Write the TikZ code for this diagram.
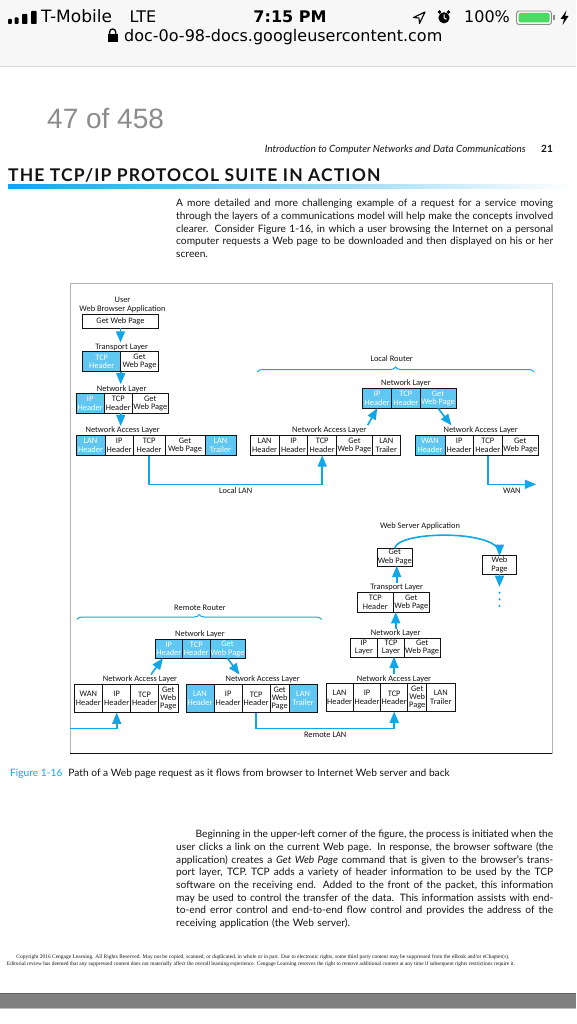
\documentclass[tikz,border=0pt]{standalone}
\usepackage{fontspec}
\usepackage{graphicx}
\setmainfont{Lato}
\newfontfamily\uifont{DejaVu Sans}
\newfontfamily\pagefont{Liberation Sans}
\newfontfamily\figfont{Carlito}
\newfontfamily\copyfont{Liberation Serif}
\newfontfamily\titlefont[LetterSpace=6.5]{Lato}
\usetikzlibrary{shapes,arrows,positioning,decorations.pathreplacing}

\definecolor{barback}{RGB}{247,247,247}
\definecolor{batgreen}{RGB}{76,217,100}
\definecolor{pagegray}{RGB}{140,140,140}
\definecolor{cellblue}{RGB}{96,198,242}
\definecolor{linkblue}{RGB}{16,166,232}
\definecolor{inkgray}{RGB}{20,20,20}

\newcommand{\figtext}{\figfont\fontsize{8.4}{8.4}\selectfont}
\newcommand{\bodytext}{\fontsize{10.2}{12.7}\selectfont}
\newcommand{\jline}[2][377pt]{\makebox[#1][s]{\spaceskip=0pt\xspaceskip=0pt #2}}

\begin{document}
\begin{tikzpicture}[x=1pt, y=-1pt, >=triangle 45]
    \tikzstyle{cell}  = [draw=inkgray, line width=0.7pt, rectangle, minimum height=20pt, inner sep=0pt, outer sep=0pt, align=center, font=\figtext, text=inkgray]
    \tikzstyle{hcell} = [cell, fill=cellblue, text=white]
    \tikzstyle{tall}  = [minimum height=28.4pt]
    \tikzstyle{layer} = [font=\figtext, inner sep=1pt, text=inkgray]
    \tikzstyle{link}  = [linkblue, line width=1.6pt, ->]
    \tikzstyle{brace} = [linkblue, line width=1pt, decorate, decoration={brace, amplitude=5pt}]
    \tikzstyle{body}  = [anchor=north west, inner sep=0pt, text width=377pt, align=left, font=\bodytext, text=inkgray]
    \tikzstyle{uitext} = [anchor=base west, inner sep=0pt, font=\uifont\fontsize{16}{16}\selectfont]

    \useasboundingbox (0,0) rectangle (576,1024);
    \fill[white] (0,0) rectangle (576,1024);

    % Status bar and address bar
    \fill[barback] (0,0) rectangle (576,66);
    \draw[black!15] (0,66) -- (576,66);
    \fill[rounded corners=0.8pt] (8,19) rectangle (11.8,24);
    \fill[rounded corners=0.8pt] (14.7,17.5) rectangle (18.5,24);
    \fill[rounded corners=0.8pt] (22,14) rectangle (27.4,24);
    \fill[rounded corners=0.8pt] (31,11) rectangle (36.6,24);
    \node[uitext, font=\uifont\fontsize{17}{17}\selectfont] (carrier) at (41,22.8) {T-Mobile};
    \node[uitext] (net) at (129.4,22.8) {LTE};
    \node[uitext, anchor=base, font=\uifont\bfseries\fontsize{16}{16}\selectfont] (clock) at (290,22.8) {7:15 PM};
    \draw[line width=1.1pt, line join=round] (413.5,17.5) -- (425,12) -- (419.5,23.5) -- (419,18) -- cycle;
    \fill (439.5,12) circle (1.8);
    \fill (448.5,12) circle (1.8);
    \fill (444,17.8) circle (5.6);
    \draw[white, line width=1pt] (444,14.5) -- (444,17.8) -- (446.5,19.3);
    \node[uitext] (charge) at (464,22.8) {100\%};
    \draw[black!45, line width=0.9pt, rounded corners=2.5pt] (516.5,11) rectangle (551.5,24.5);
    \fill[batgreen, rounded corners=1.5pt] (518.5,13) rectangle (549.5,22.5);
    \fill[black!45] (552.5,15.5) rectangle (554.5,20);
    \fill (566.5,10.5) -- (560.5,19) -- (564,19) -- (562.5,25) -- (568.5,16) -- (565,16) -- cycle;
    \fill (107.7,34.5) rectangle (117.6,42);
    \draw[line width=1.3pt, rounded corners=3pt] (109.6,34.5) -- (109.6,29) -- (115.7,29) -- (115.7,34.5);
    \node[uitext] (url) at (124,41.2) {doc-0o-98-docs.googleusercontent.com};

    % Page head
    \node[anchor=base west, inner sep=0pt, text=pagegray, font=\pagefont\fontsize{28}{28}\selectfont] (pagecount) at (47,128.6) {47 of 458};
    \node[anchor=base east, inner sep=0pt, text=inkgray, font=\itshape\fontsize{10}{10}\selectfont] (runhead) at (526,153) {Introduction to Computer Networks and Data Communications};
    \node[anchor=base east, inner sep=0pt, text=inkgray, font=\bfseries\fontsize{10}{10}\selectfont] (pageno) at (553,153) {21};
    \node[anchor=base west, inner sep=0pt, text=inkgray, font=\titlefont\bfseries\fontsize{17.5}{17.5}\selectfont] (title) at (8,181.5) {THE TCP/IP PROTOCOL SUITE IN ACTION};
    \shade[left color=linkblue, right color=white] (8,184.5) rectangle (572,188.5);

    \node[body] (intro) at (176,199) {\jline{A more detailed and more challenging example of a request for a service moving}\\
        \jline{through the layers of a communications model will help make the concepts involved}\\
        \jline{clearer. Consider Figure 1-16, in which a user browsing the Internet on a personal}\\
        \jline{computer requests a Web page to be downloaded and then displayed on his or her}\\
        screen.};

    % Figure frame
    \draw[black!30] (70,283) rectangle (552,753.5);
    \draw[inkgray, line width=0.8pt] (70,753.5) -- (552,753.5);

    % User side
    \node[layer, align=center] (userlbl) at (122.5,305) {User\\Web Browser Application};
    \node[cell, minimum width=75.6pt, minimum height=14pt, anchor=north west] (cget) at (82.7,314.3) {Get Web Page};
    \node[layer] (ctlbl) at (121.7,347) {Transport Layer};
    \node[hcell, minimum width=38pt, anchor=north west] (ctcp) at (82.7,351.7) {TCP\\Header};
    \node[cell, minimum width=37.6pt, right=0pt of ctcp] (ctget) {Get\\Web Page};
    \node[layer] (cnlbl) at (121.7,389) {Network Layer};
    \node[hcell, minimum width=28.3pt, anchor=north west] (cnip) at (76,393.3) {IP\\Header};
    \node[cell, minimum width=28pt, right=0pt of cnip] (cntcp) {TCP\\Header};
    \node[cell, minimum width=36pt, right=0pt of cntcp] (cnget) {Get\\Web Page};
    \node[layer] (calbl) at (122.7,430.7) {Network Access Layer};
    \node[hcell, minimum width=29pt, anchor=north west] (calan) at (76,435.5) {LAN\\Header};
    \node[cell, minimum width=28.3pt, right=0pt of calan] (caip) {IP\\Header};
    \node[cell, minimum width=31.7pt, right=0pt of caip] (catcp) {TCP\\Header};
    \node[cell, minimum width=40pt, right=0pt of catcp] (caget) {Get\\Web Page};
    \node[hcell, minimum width=31pt, right=0pt of caget] (catrl) {LAN\\Trailer};

    % Local router
    \node[layer] (lrlbl) at (391.7,358.3) {Local Router};
    \coordinate (lrleft) at (257.3,372);
    \coordinate (lrright) at (534,372);
    \draw[brace] (lrleft) -- (lrright);
    \node[layer] (lrnllbl) at (406,383.3) {Network Layer};
    \node[hcell, minimum width=29pt, anchor=north west] (lrnip) at (362.7,388.3) {IP\\Header};
    \node[hcell, minimum width=28.3pt, right=0pt of lrnip] (lrntcp) {TCP\\Header};
    \node[hcell, minimum width=36pt, right=0pt of lrntcp] (lrnget) {Get\\Web Page};
    \node[layer] (lralbl) at (329.3,430) {Network Access Layer};
    \node[cell, minimum width=29.3pt, anchor=north west] (lralan) at (250,435.5) {LAN\\Header};
    \node[cell, minimum width=28.4pt, right=0pt of lralan] (lraip) {IP\\Header};
    \node[cell, minimum width=29pt, right=0pt of lraip] (lratcp) {TCP\\Header};
    \node[cell, minimum width=35.5pt, right=0pt of lratcp] (lraget) {Get\\Web Page};
    \node[cell, minimum width=28.3pt, right=0pt of lraget] (lratrl) {LAN\\Trailer};
    \node[layer] (lrwlbl) at (480.7,430) {Network Access Layer};
    \node[hcell, minimum width=30pt, anchor=north west] (lrwwan) at (415,435.5) {WAN\\Header};
    \node[cell, minimum width=28.3pt, right=0pt of lrwwan] (lrwip) {IP\\Header};
    \node[cell, minimum width=29pt, right=0pt of lrwip] (lrwtcp) {TCP\\Header};
    \node[cell, minimum width=36pt, right=0pt of lrwtcp] (lrwget) {Get\\Web Page};
    \coordinate (wanout) at (536,484.3);

    % Web server side
    \node[layer] (srvlbl) at (420,526.7) {Web Server Application};
    \node[cell, minimum width=35.5pt, minimum height=17.7pt, anchor=north west] (sget) at (377,548.3) {Get\\Web Page};
    \node[cell, minimum width=34.4pt, minimum height=18.6pt, anchor=north west] (spage) at (482.3,555.7) {Web\\Page};
    \node[layer] (stlbl) at (396.7,587.3) {Transport Layer};
    \node[cell, minimum width=36pt, anchor=north west] (sttcp) at (357.3,592.2) {TCP\\Header};
    \node[cell, minimum width=36pt, right=0pt of sttcp] (stget) {Get\\Web Page};
    \node[layer] (snlbl) at (395.7,633.3) {Network Layer};
    \node[cell, minimum width=27.7pt, minimum height=18.6pt, anchor=north west] (snip) at (350,638.3) {IP\\Layer};
    \node[cell, minimum width=26.6pt, minimum height=18.6pt, right=0pt of snip] (sntcp) {TCP\\Layer};
    \node[cell, minimum width=35.7pt, minimum height=18.6pt, right=0pt of sntcp] (snget) {Get\\Web Page};
    \node[layer] (salbl) at (394,679) {Network Access Layer};
    \node[cell, tall, minimum width=27.3pt, anchor=north west] (salan) at (326,683.3) {LAN\\Header};
    \node[cell, tall, minimum width=27.4pt, right=0pt of salan] (saip) {IP\\Header};
    \node[cell, tall, minimum width=27pt, right=0pt of saip] (satcp) {TCP\\Header};
    \node[cell, tall, minimum width=19pt, right=0pt of satcp] (saget) {Get\\Web\\Page};
    \node[cell, tall, minimum width=28.3pt, right=0pt of saget] (satrl) {LAN\\Trailer};

    % Remote router
    \node[layer] (rrlbl) at (200,607.5) {Remote Router};
    \coordinate (rrleft) at (77,619.5);
    \coordinate (rrright) at (321.5,619.5);
    \draw[brace] (rrleft) -- (rrright);
    \node[layer] (rrnllbl) at (200,634.3) {Network Layer};
    \node[hcell, minimum width=27.7pt, minimum height=19pt, anchor=north west] (rrnip) at (155,639.3) {IP\\Header};
    \node[hcell, minimum width=27.3pt, minimum height=19pt, right=0pt of rrnip] (rrntcp) {TCP\\Header};
    \node[hcell, minimum width=35pt, minimum height=19pt, right=0pt of rrntcp] (rrnget) {Get\\Web Page};
    \node[layer] (rrwlbl) at (140,679.3) {Network Access Layer};
    \node[cell, tall, minimum width=28.7pt, anchor=north west] (rrwwan) at (74,684.3) {WAN\\Header};
    \node[cell, tall, minimum width=28pt, right=0pt of rrwwan] (rrwip) {IP\\Header};
    \node[cell, tall, minimum width=27.6pt, right=0pt of rrwip] (rrwtcp) {TCP\\Header};
    \node[cell, tall, minimum width=20pt, right=0pt of rrwtcp] (rrwget) {Get\\Web\\Page};
    \node[layer] (rrllbl) at (262.7,679.3) {Network Access Layer};
    \node[hcell, tall, minimum width=28pt, anchor=north west] (rrllan) at (186,684.3) {LAN\\Header};
    \node[cell, tall, minimum width=28.3pt, right=0pt of rrllan] (rrlip) {IP\\Header};
    \node[cell, tall, minimum width=27.7pt, right=0pt of rrlip] (rrltcp) {TCP\\Header};
    \node[cell, tall, minimum width=19.3pt, right=0pt of rrltcp] (rrlget) {Get\\Web\\Page};
    \node[hcell, tall, minimum width=27.7pt, right=0pt of rrlget] (rrltrl) {LAN\\Trailer};
    \coordinate (wanin) at (70,728.3);

    % Connections
    \draw [link] (cget.south) -- (cget.south |- ctlbl.north);
    \draw [link] (ctcp.south east) -- (ctcp.south east |- cnlbl.north);
    \draw [link] (ctcp.south east |- cntcp.south) -- (ctcp.south east |- calbl.north);
    \draw [link] (catcp.south) -- ++(0,28.8) -| node[layer, below=2pt, pos=0.25] {Local LAN} (lratcp.south);
    \draw [link] (lralbl.north east) -- (lrnip.south);
    \draw [link] (lrnget.south) -- ([xshift=9pt]lrwlbl.north west);
    \draw [link] (lrwtcp.south) -- ++(0,28.8) -- node[layer, below=2pt] {WAN} (wanout);

    \draw [link] (wanin) -| (rrwip.south);
    \draw [link] ([xshift=11pt]rrwlbl.north) -- ([xshift=-6pt]rrnip.south);
    \draw [link] (rrnget.south) -- ([xshift=15pt]rrllbl.north west);
    \draw [link] (rrltcp.south) -- ++(0,15.6) -| node[layer, below=2pt, pos=0.25] {Remote LAN} (satcp.south);

    \draw [link] (salbl.north) -- (salbl.north |- sntcp.south);
    \draw [link] (snlbl.north) -- (snlbl.north |- sttcp.south);
    \draw [link] (stlbl.north) -- (stlbl.north |- sget.south);
    \draw [link] (sget.north) .. controls +(3,-18) and +(0,-26) .. (spage.north);
    \draw [link] (spage.south) -- ++(0,12.5);
    \fill[linkblue] (499.5,592.7) circle (1.2);
    \fill[linkblue] (499.5,599.3) circle (1.2);
    \fill[linkblue] (499.5,606) circle (1.2);

    % Caption and text below
    \node[anchor=base west, inner sep=0pt, text=inkgray, font=\fontsize{10.2}{10.2}\selectfont] (caption) at (10,776.5) {\textcolor{linkblue}{Figure 1-16}\hspace{6pt}Path of a Web page request as it flows from browser to Internet Web server and back};

    \node[body] (explain) at (176,830) {\hspace*{19.5pt}\jline[357.5pt]{Beginning in the upper-left corner of the figure, the process is initiated when the}\\
        \jline{user clicks a link on the current Web page. In response, the browser software (the}\\
        \jline{application) creates a \textit{Get Web Page} command that is given to the browser's trans-}\\
        \jline{port layer, TCP. TCP adds a variety of header information to be used by the TCP}\\
        \jline{software on the receiving end. Added to the front of the packet, this information}\\
        \jline{may be used to control the transfer of the data. This information assists with end-}\\
        \jline{to-end error control and end-to-end flow control and provides the address of the}\\
        receiving application (the Web server).};

    \node[anchor=base, inner sep=0pt, text=inkgray, font=\copyfont\fontsize{5}{5}\selectfont] (copyone) at (263,958) {\resizebox{493pt}{!}{Copyright 2016 Cengage Learning. All Rights Reserved. May not be copied, scanned, or duplicated, in whole or in part. Due to electronic rights, some third party content may be suppressed from the eBook and/or eChapter(s).}};
    \node[anchor=base, inner sep=0pt, text=inkgray, font=\copyfont\fontsize{5}{5}\selectfont] (copytwo) at (261,965) {\resizebox{508pt}{!}{Editorial review has deemed that any suppressed content does not materially affect the overall learning experience. Cengage Learning reserves the right to remove additional content at any time if subsequent rights restrictions require it.}};

    % Bottom toolbar edge
    \fill[black!50] (0,993.5) rectangle (576,1008);
    \draw[black!62] (0,993.5) -- (576,993.5);
    \draw[black!25] (0,1008.5) -- (576,1008.5);
\end{tikzpicture}
\end{document}
